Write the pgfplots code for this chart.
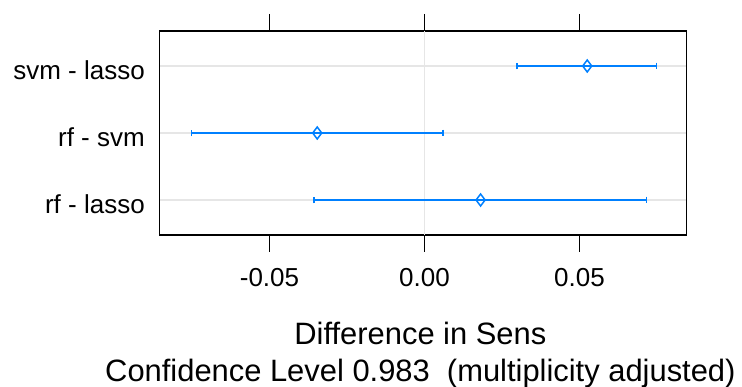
\documentclass[border=0pt]{standalone}
\usepackage{pgfplots}
\pgfplotsset{compat=1.18}
\usepackage{fontspec}
\setmainfont{Liberation Sans}
\definecolor{dotblue}{HTML}{0080FF}
\definecolor{gridgray}{HTML}{E6E6E6}
\begin{document}
\begin{tikzpicture}[x=1pt,y=1pt]
\begin{axis}[
  at={(0,0)}, anchor=south west,
  scale only axis,
  width=527.2pt, height=204pt,
  xmin=-0.08555, xmax=0.08452,
  ymin=0.478, ymax=3.522,
  scaled x ticks=false,
  xtick={-0.05,0,0.05},
  xticklabels={-0.05,0.00,0.05},
  xtick pos=both, xticklabel pos=lower,
  ytick={1,2,3},
  yticklabels={rf - lasso, rf - svm, svm - lasso},
  ytick pos=left,
  major tick length=17pt,
  tick align=outside,
  ytick style={draw=none},
  xtick style={black, line width=1.3pt},
  axis line style={black, line width=1.3pt},
  ymajorgrids,
  grid style={gridgray, line width=1.5pt},
  tick label style={font=\fontsize{26}{30}\selectfont},
  xticklabel style={yshift=-13pt},
  yticklabel style={yshift=-4pt, xshift=6pt},
  xlabel={Difference in Sens\\Confidence Level 0.983\ \ (multiplicity adjusted)},
  xlabel style={font=\fontsize{30.9}{37}\selectfont, align=center,
    at={(axis description cs:0.5,0)}, anchor=north, yshift=-84pt, xshift=-2.5pt},
  clip=false,
]
\addplot[gridgray, line width=1.5pt, forget plot] coordinates {(0,0.478) (0,3.522)};
\addplot[
  dotblue, line width=1.5pt,
  only marks,
  mark=diamond, mark size=6pt,
  mark options={fill=white, line width=1.5pt},
  error bars/.cd,
    x dir=both, x explicit,
    error bar style={line width=1.5pt, dotblue},
    error mark options={line width=1.5pt, mark size=3.3pt, rotate=90},
] table[x=x, y=y, x error plus=ep, x error minus=em] {
x        y  ep      em
0.0525   3  0.0223  0.0226
-0.0346  2  0.0406  0.0406
0.0181   1  0.0535  0.0537
};
\end{axis}
\pgfresetboundingbox
\path (-159.3,-152) rectangle (582.7,235);
\end{tikzpicture}
\end{document}
